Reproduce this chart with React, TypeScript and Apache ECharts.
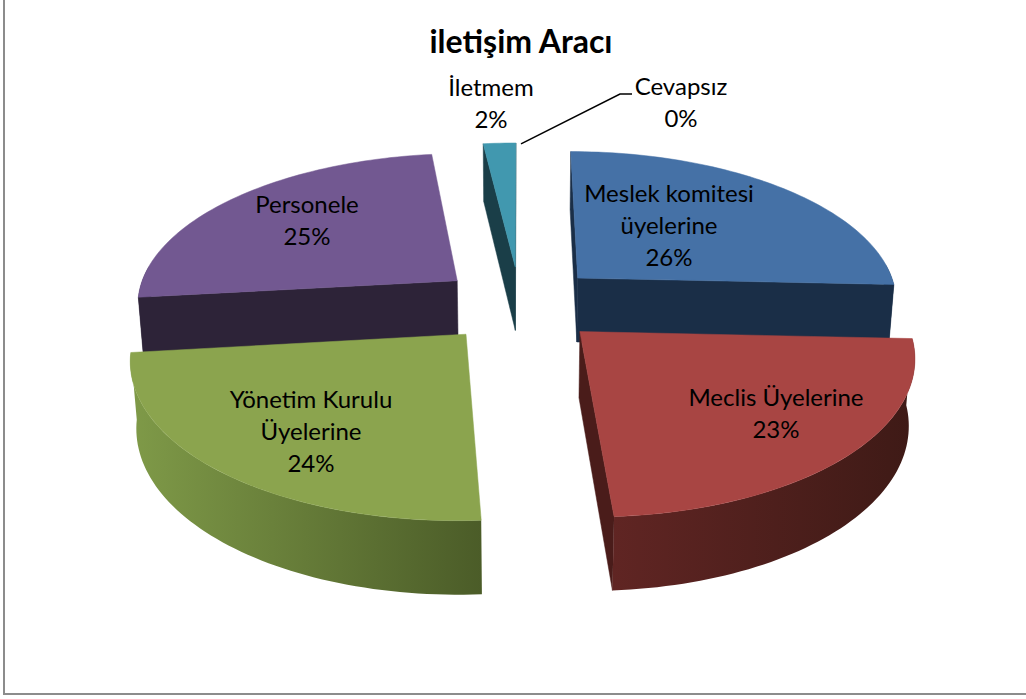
import React, { useEffect, useRef } from "react";
import * as echarts from "echarts";

const categories = ["Meslek komitesi\nüyelerine", "Meclis Üyelerine", "Yönetim Kurulu\nÜyelerine", "Personele", "İletmem", "Cevapsız"];
const shares = [25.7, 23.3, 24.2, 24.9, 1.9, 0];
const percentLabels = ["26%", "23%", "24%", "25%", "2%", "0%"];
const chartTitle = "iletişim Aracı";

const topColors = ["#4571a6", "#a84543", "#8ba44e", "#725891", "#4198af", "#f79646"];
const wallColors = ["#1a2e47", "#4a1c1a", "#4b5c28", "#2d2338", "#1a3e48", "#7a4a20"];
const rimStops: string[][] = [
  ["#1a2e47", "#1a2e47"],
  ["#602523", "#3e1a16"],
  ["#7f9a48", "#4b5c28"],
  ["#2d2338", "#2d2338"],
  ["#1a3e48", "#1a3e48"],
  ["#7a4a20", "#7a4a20"],
];
const drawOrder = [2, 4, 5, 3, 6, 1];
const labelCenters = [[669, 224], [776, 412], [311, 430], [307, 219], [491, 102], [681, 101]];

const FONT = "Lato, Carlito, 'Open Sans', sans-serif";
const CX = 520, CY = 304, RX = 322, RY = 151, PERSP = 0.14, DROP = 66, SINK = 0.015, EXPLODE = 0.254;

function project(X: number, u: number, z: number): number[] {
  const w = 1 - PERSP * u + SINK * z;
  return [CX + (RX * X) / w, CY + (RY * u + DROP * z) / w];
}

const totals = shares.reduce((a, b) => a + b, 0);
const startAngles: number[] = [];
shares.reduce((acc, v, i) => {
  startAngles[i] = (acc / totals) * Math.PI * 2;
  return acc + v;
}, 0);

function area(p: number[][]): number {
  let s = 0;
  for (let i = 0; i < p.length; i++) {
    const a = p[i], b = p[(i + 1) % p.length];
    s += a[0] * b[1] - b[0] * a[1];
  }
  return s / 2;
}

function renderSlice(params: any, api: any) {
  const i = params.dataIndex;
  const value = api.value(0);
  const a0 = startAngles[i];
  const a1 = a0 + (value / totals) * Math.PI * 2;
  const mid = (a0 + a1) / 2;
  const ox = Math.sin(mid) * EXPLODE, ou = -Math.cos(mid) * EXPLODE;
  const pt = (ang: number, z: number) => project(ox + Math.sin(ang), ou - Math.cos(ang), z);
  const apex = (z: number) => project(ox, ou, z);
  const z2 = drawOrder[i] * 10;
  const children: any[] = [];

  if (value > 0) {
    const steps = Math.max(6, Math.round((a1 - a0) * 40));
    const arc: number[][] = [];
    for (let s = 0; s <= steps; s++) arc.push(pt(a0 + ((a1 - a0) * s) / steps, 0));

    const wall = (ang: number, sign: number) => {
      const poly = [apex(0), pt(ang, 0), pt(ang, 1), apex(1)];
      if (area(poly) * sign > 0) {
        children.push({
          type: "polygon", z2,
          shape: { points: poly },
          style: { fill: wallColors[i], stroke: wallColors[i], lineWidth: 0.5 },
        });
      }
    };
    wall(a0, -1);
    wall(a1, 1);

    const rA = Math.max(a0, Math.PI / 2 - 0.1), rB = Math.min(a1, (Math.PI * 3) / 2 + 0.1);
    if (rB > rA) {
      const top: number[][] = [], bottom: number[][] = [];
      const n = Math.round((rB - rA) * 40) + 2;
      for (let s = 0; s <= n; s++) {
        const ang = rA + ((rB - rA) * s) / n;
        top.push(pt(ang, 0));
        bottom.unshift(pt(ang, 1));
      }
      const stops = rimStops[i];
      children.push({
        type: "polygon", z2: z2 + 1,
        shape: { points: top.concat(bottom) },
        style: {
          fill: new echarts.graphic.LinearGradient(0, 0, 1, 0, [
            { offset: 0, color: stops[0] },
            { offset: 1, color: stops[1] },
          ]),
        },
      });
    }

    children.push({
      type: "polygon", z2: z2 + 2,
      shape: { points: [apex(0), ...arc] },
      style: { fill: topColors[i], stroke: topColors[i], lineWidth: 0.5 },
    });
  } else {
    const [sx, sy] = pt(a0, 0);
    children.push({
      type: "polyline", z2: 200,
      shape: { points: [[sx + 1, sy + 1], [620, 94], [632, 94]] },
      style: { stroke: "#000", lineWidth: 1.5, fill: "none" },
    });
  }

  children.push({
    type: "text", z2: 300,
    style: {
      text: categories[i] + "\n" + percentLabels[i],
      x: labelCenters[i][0], y: labelCenters[i][1],
      align: "center", verticalAlign: "middle",
      fontFamily: FONT, fontSize: 24, lineHeight: 32, fill: "#000",
    },
  });
  return { type: "group", children };
}

export default function App() {
  const ref = useRef<HTMLDivElement>(null);
  useEffect(() => {
    const chart = echarts.init(ref.current!, undefined, { renderer: "svg" });
    chart.setOption({
      animation: false,
      backgroundColor: "#fff",
      title: {
        text: chartTitle, left: 516, top: 19, textAlign: "center",
        textStyle: { fontFamily: FONT, fontSize: 32, fontWeight: "bold", color: "#000" },
      },
      graphic: [{
        type: "polyline",
        shape: { points: [[4, 0], [4, 694], [1026, 694]] },
        style: { stroke: "#8c8c8c", lineWidth: 2, fill: "none" },
      }],
      series: [{
        type: "custom",
        coordinateSystem: "none",
        renderItem: renderSlice,
        data: shares.map((v, i) => ({ name: categories[i], value: [v] })),
      }],
    });
    return () => chart.dispose();
  }, []);
  return <div ref={ref} style={{ position: "absolute", left: 0, top: 0, width: 1026, height: 699 }} />;
}
